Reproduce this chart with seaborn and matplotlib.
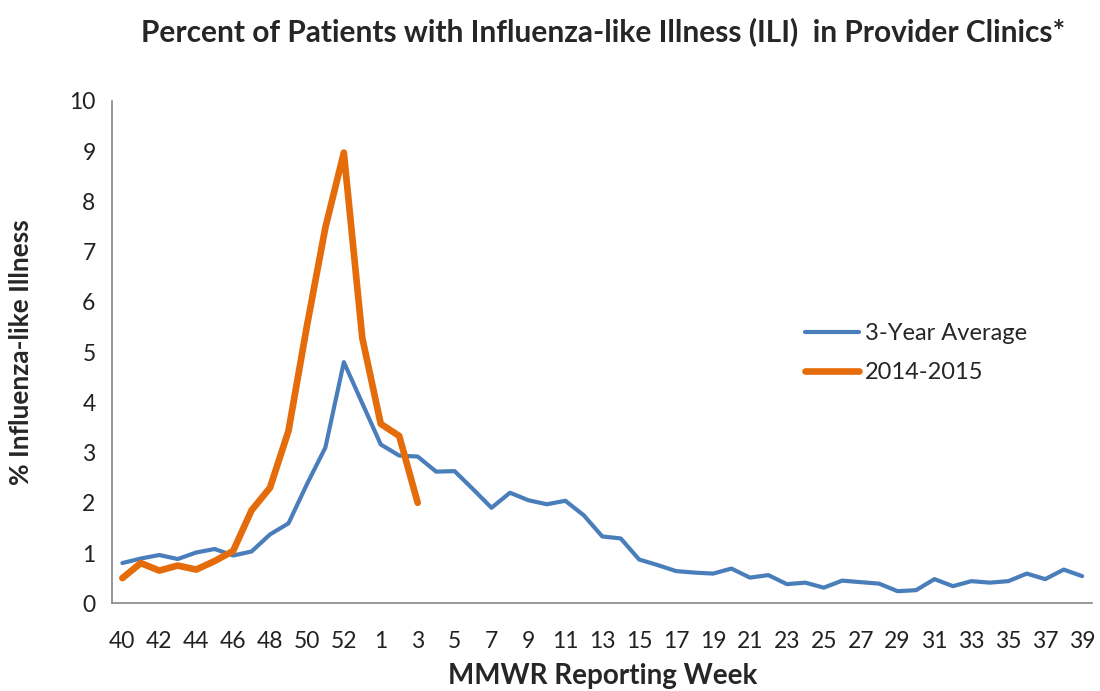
import numpy as np
import pandas as pd
import seaborn as sns
import matplotlib.pyplot as plt
from matplotlib.lines import Line2D

# MMWR weeks 40-53 of 2014, then 1-39 of 2015
weeks = list(range(40, 54)) + list(range(1, 40))

avg_3yr = [0.80, 0.89, 0.96, 0.88, 1.01, 1.08, 0.95, 1.03, 1.37, 1.59,
           2.37, 3.10, 4.80, 3.98, 3.16, 2.94, 2.92, 2.62, 2.63, 2.27,
           1.90, 2.20, 2.05, 1.97, 2.04, 1.75, 1.33, 1.29, 0.87, 0.76,
           0.64, 0.61, 0.59, 0.69, 0.51, 0.56, 0.38, 0.41, 0.31, 0.45,
           0.42, 0.39, 0.24, 0.26, 0.48, 0.34, 0.44, 0.41, 0.44, 0.59,
           0.48, 0.67, 0.54]

season_1415 = [0.50, 0.80, 0.65, 0.75, 0.67, 0.84, 1.04, 1.85, 2.30, 3.43,
               5.52, 7.48, 8.97, 5.28, 3.57, 3.33, 2.00]

n = len(weeks)
df = pd.DataFrame({
    "pos": list(range(n)) * 2,
    "value": avg_3yr + season_1415 + [np.nan] * (n - len(season_1415)),
    "series": ["3-Year Average"] * n + ["2014-2015"] * n,
})

sns.set_style("white")
plt.rcParams["font.family"] = ["Lato", "DejaVu Sans"]

BLUE = "#4A7EBB"
ORANGE = "#E46C0A"
LW_BLUE, LW_ORANGE = 3.0, 4.8

fig = plt.figure(figsize=(11, 6.91), dpi=100)
ax = fig.add_axes([0.102, 0.127, 0.891, 0.727])

palette = {"3-Year Average": BLUE, "2014-2015": ORANGE}
sns.lineplot(data=df, x="pos", y="value", hue="series", palette=palette,
             size="series", sizes={"3-Year Average": LW_BLUE, "2014-2015": LW_ORANGE},
             ax=ax, legend=False, solid_capstyle="round")

ax.set_xlim(-0.55, n - 0.45)
ax.set_ylim(0, 10)
ax.set_yticks(range(0, 11))
ax.set_xticks(range(0, n, 2))
ax.set_xticklabels([str(w) for w in weeks[::2]])

ax.tick_params(axis="y", length=6, width=1, color="#868686", labelsize=16.5,
               labelcolor="#222222", direction="out", pad=6)
ax.tick_params(axis="x", length=0, labelsize=16.5, labelcolor="#222222", pad=20)

for s in ["top", "right"]:
    ax.spines[s].set_visible(False)
for s in ["left", "bottom"]:
    ax.spines[s].set_color("#868686")
    ax.spines[s].set_linewidth(1.2)

ax.set_xlabel("MMWR Reporting Week", fontsize=20, fontweight="bold", labelpad=8)
ax.set_ylabel("% Influenza-like Illness", fontsize=19, fontweight="bold", labelpad=26)
fig.suptitle("Percent of Patients with Influenza-like Illness (ILI)  in Provider Clinics*",
             fontsize=21.5, fontweight="bold", x=0.548, y=0.975)

handles = [Line2D([], [], color=BLUE, lw=LW_BLUE, solid_capstyle="round"),
           Line2D([], [], color=ORANGE, lw=LW_ORANGE, solid_capstyle="round")]
ax.legend(handles, ["3-Year Average", "2014-2015"], loc="upper left",
          bbox_to_anchor=(0.685, 0.60), frameon=False, fontsize=17,
          handlelength=2.3, handletextpad=0.25, labelspacing=0.75)

fig.savefig("out.png", dpi=100)
